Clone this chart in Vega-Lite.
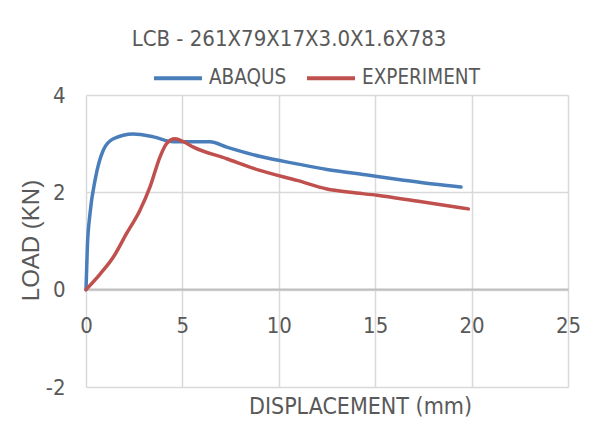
{
  "$schema": "https://vega.github.io/schema/vega-lite/v6.json",
  "width": 482,
  "height": 292,
  "autosize": {"type": "none"},
  "padding": {"left": 86, "top": 95, "right": 39, "bottom": 36},
  "background": "white",
  "title": {
    "text": "LCB - 261X79X17X3.0X1.6X783",
    "font": "DejaVu Sans Condensed, Roboto, sans-serif",
    "fontSize": 22,
    "fontWeight": "normal",
    "color": "#595959",
    "anchor": "middle",
    "frame": "group",
    "baseline": "alphabetic",
    "dx": -38,
    "offset": -16
  },
  "data": {
    "values": [
      {"series": "ABAQUS", "x": 0, "y": 0},
      {"series": "ABAQUS", "x": 0.07, "y": 0.87},
      {"series": "ABAQUS", "x": 0.21, "y": 1.57},
      {"series": "ABAQUS", "x": 0.47, "y": 2.25},
      {"series": "ABAQUS", "x": 0.9, "y": 2.87},
      {"series": "ABAQUS", "x": 1.42, "y": 3.1},
      {"series": "ABAQUS", "x": 2.45, "y": 3.2},
      {"series": "ABAQUS", "x": 3.5, "y": 3.14},
      {"series": "ABAQUS", "x": 4.53, "y": 3.04},
      {"series": "ABAQUS", "x": 5.57, "y": 3.04},
      {"series": "ABAQUS", "x": 6.43, "y": 3.04},
      {"series": "ABAQUS", "x": 7.3, "y": 2.93},
      {"series": "ABAQUS", "x": 9.0, "y": 2.74},
      {"series": "ABAQUS", "x": 11.0, "y": 2.58},
      {"series": "ABAQUS", "x": 12.5, "y": 2.47},
      {"series": "ABAQUS", "x": 14.5, "y": 2.36},
      {"series": "ABAQUS", "x": 16.3, "y": 2.26},
      {"series": "ABAQUS", "x": 18.0, "y": 2.17},
      {"series": "ABAQUS", "x": 19.45, "y": 2.11},
      {"series": "EXPERIMENT", "x": 0, "y": 0},
      {"series": "EXPERIMENT", "x": 0.73, "y": 0.32},
      {"series": "EXPERIMENT", "x": 1.42, "y": 0.67},
      {"series": "EXPERIMENT", "x": 2.1, "y": 1.15},
      {"series": "EXPERIMENT", "x": 2.8, "y": 1.63},
      {"series": "EXPERIMENT", "x": 3.32, "y": 2.11},
      {"series": "EXPERIMENT", "x": 3.84, "y": 2.73},
      {"series": "EXPERIMENT", "x": 4.18, "y": 3.0},
      {"series": "EXPERIMENT", "x": 4.62, "y": 3.1},
      {"series": "EXPERIMENT", "x": 5.05, "y": 3.04},
      {"series": "EXPERIMENT", "x": 5.57, "y": 2.93},
      {"series": "EXPERIMENT", "x": 7.3, "y": 2.69},
      {"series": "EXPERIMENT", "x": 9.02, "y": 2.45},
      {"series": "EXPERIMENT", "x": 11.0, "y": 2.24},
      {"series": "EXPERIMENT", "x": 12.5, "y": 2.07},
      {"series": "EXPERIMENT", "x": 13.7, "y": 2.0},
      {"series": "EXPERIMENT", "x": 15.1, "y": 1.94},
      {"series": "EXPERIMENT", "x": 17.15, "y": 1.82},
      {"series": "EXPERIMENT", "x": 19.83, "y": 1.66}
    ]
  },
  "mark": {"type": "line", "strokeWidth": 3.5, "interpolate": "monotone", "strokeCap": "round"},
  "encoding": {
    "x": {
      "field": "x",
      "type": "quantitative",
      "scale": {"domain": [0, 25], "nice": false, "zero": false},
      "axis": {
        "values": [0, 5, 10, 15, 20, 25],
        "orient": "bottom",
        "offset": -98,
        "grid": true,
        "gridColor": "#d9d9d9",
        "gridWidth": 1.5,
        "domain": true,
        "domainColor": "#bfbfbf",
        "domainWidth": 2,
        "ticks": false,
        "labelFlush": false,
        "labelPadding": 26,
        "labelFont": "DejaVu Sans Condensed, Roboto, sans-serif",
        "labelFontSize": 22,
        "labelColor": "#595959",
        "title": "DISPLACEMENT (mm)",
        "titleFont": "DejaVu Sans Condensed, Roboto, sans-serif",
        "titleFontSize": 23,
        "titleFontWeight": "normal",
        "titleColor": "#595959",
        "titleBaseline": "alphabetic",
        "titleX": 274,
        "titleY": 124
      }
    },
    "y": {
      "field": "y",
      "type": "quantitative",
      "scale": {"domain": [-2, 4], "nice": false, "zero": false},
      "axis": {
        "values": [-2, 0, 2, 4],
        "labelExpr": "datum.value",
        "grid": true,
        "gridColor": "#d9d9d9",
        "gridWidth": 1.5,
        "domain": false,
        "ticks": false,
        "labelPadding": 21,
        "labelFont": "DejaVu Sans Condensed, Roboto, sans-serif",
        "labelFontSize": 22,
        "labelColor": "#595959",
        "title": "LOAD (KN)",
        "titleFont": "Liberation Sans",
        "titleFontSize": 24,
        "titleFontWeight": "normal",
        "titleColor": "#595959",
        "titleBaseline": "bottom",
        "titleX": -43,
        "titleY": 145
      }
    },
    "color": {
      "field": "series",
      "type": "nominal",
      "scale": {"domain": ["ABAQUS", "EXPERIMENT"], "range": ["#4a7ebb", "#c0504d"]},
      "legend": {
        "title": null,
        "orient": "none",
        "direction": "horizontal",
        "legendX": 66,
        "legendY": -43,
        "symbolType": "stroke",
        "symbolSize": 2304,
        "symbolStrokeWidth": 4,
        "labelFont": "DejaVu Sans Condensed, Roboto, sans-serif",
        "labelFontSize": 20.5,
        "labelColor": "#595959",
        "labelOffset": 5,
        "columnPadding": 12
      }
    }
  },
  "config": {"view": {"stroke": null}}
}
